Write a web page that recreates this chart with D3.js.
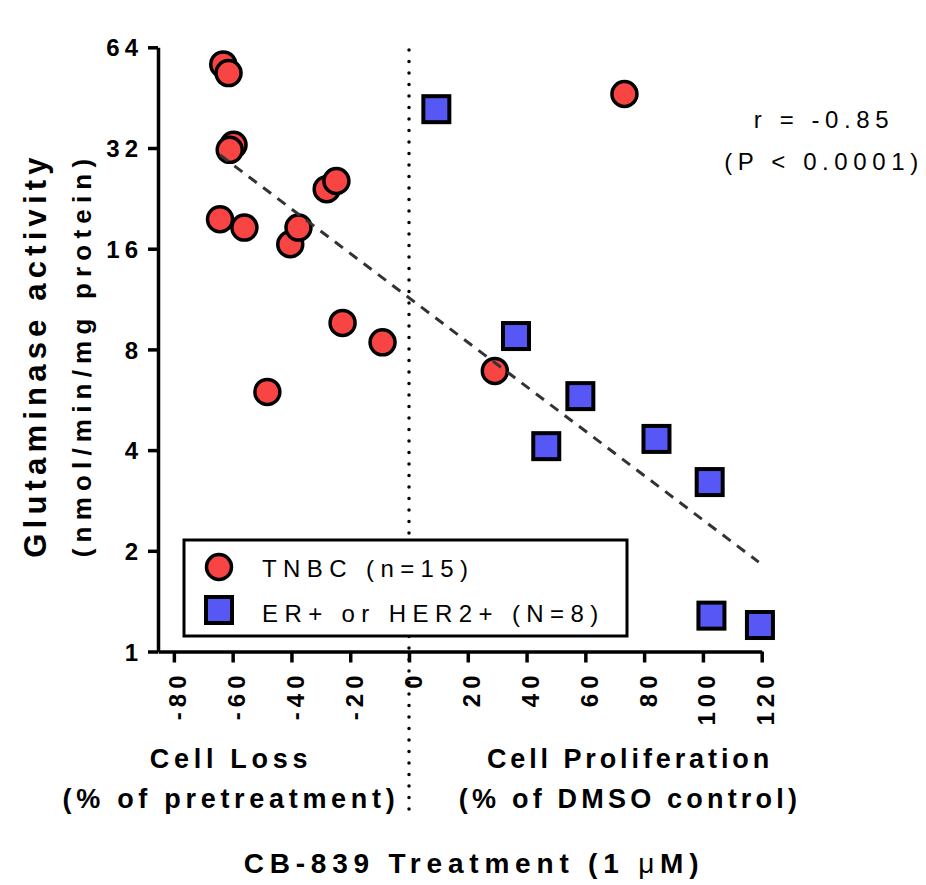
<!DOCTYPE html>
<html>
<head>
<meta charset="utf-8">
<script src="https://cdn.jsdelivr.net/npm/d3@7"></script>
<style>
  body { margin: 0; background: #fff; }
  svg { font-family: "Liberation Sans", Arial, sans-serif; }
</style>
</head>
<body>
<svg id="chart" width="926" height="885"></svg>
<script>
// TNBC points [x, y]
const tnbcX = [-63.2, -61.4, -59.7, -61.0, -64.3, -56.0, -40.4, -37.6, -28.0, -24.7, -22.6, -9.0, -48.2, 29.2, 73.3];
const tnbcY = [56.9, 53.6, 32.7, 31.6, 19.6, 18.5, 16.5, 18.5, 24.1, 25.5, 9.6, 8.4, 5.97, 6.9, 46.4];
// ER+ / HER2+ points
const erX = [9.3, 36.4, 58.3, 46.7, 84.2, 102.3, 102.9, 119.4];
const erY = [41.8, 8.77, 5.8, 4.11, 4.32, 3.21, 1.28, 1.2];
// regression line end points
const fitX = [-64.3, 119.0];
const fitY = [30.5, 1.85];

const xTicks = [-80, -60, -40, -20, 0, 20, 40, 60, 80, 100, 120];
const yTicks = [1, 2, 4, 8, 16, 32, 64];

const RED = "#f94444";
const BLUE = "#5757f5";

const svg = d3.select("#chart");

const x = d3.scaleLinear().domain([-85.4, 120]).range([158, 761.7]);
const y = d3.scaleLog().base(2).domain([1, 64]).range([651.5, 47.3]);

// dotted zero line
svg.append("line")
  .attr("x1", x(0)).attr("x2", x(0))
  .attr("y1", 50).attr("y2", 810)
  .attr("stroke", "#000")
  .attr("stroke-width", 3.5)
  .attr("stroke-linecap", "round")
  .attr("stroke-dasharray", "0 11.5");

// axes
const yAxis = svg.append("g")
  .attr("transform", `translate(${x.range()[0]},0)`)
  .call(d3.axisLeft(y).tickValues(yTicks).tickFormat(d => String(d)).tickSize(10).tickSizeOuter(0).tickPadding(5));

const xAxis = svg.append("g")
  .attr("transform", `translate(0,${y.range()[0]})`)
  .call(d3.axisBottom(x).tickValues(xTicks).tickFormat(d => String(d)).tickSize(11).tickSizeOuter(0));

[yAxis, xAxis].forEach(g => {
  g.selectAll("path, line").attr("stroke", "#000").attr("stroke-width", 3.5);
  g.selectAll("text")
    .attr("fill", "#000")
    .style("font-family", "'Liberation Sans', Arial, sans-serif")
    .style("font-weight", "bold")
    .style("font-size", "24px")
    .style("letter-spacing", "5px");
});

yAxis.selectAll("text").attr("dy", "0.36em");

xAxis.selectAll("text")
  .attr("text-anchor", "end")
  .attr("y", 0)
  .attr("dy", 0)
  .attr("transform", "translate(12,19) rotate(-90)");

const fitLine = d3.line().x(d => x(d[0])).y(d => y(d[1]));
const fitData = fitX.map((v, i) => [v, fitY[i]]);

// points
const tnbc = tnbcX.map((v, i) => [v, tnbcY[i]]);
const er = erX.map((v, i) => [v, erY[i]]);

svg.append("g").selectAll("rect")
  .data(er)
  .enter()
  .append("rect")
  .attr("x", d => x(d[0]) - 13)
  .attr("y", d => y(d[1]) - 13)
  .attr("width", 26)
  .attr("height", 26)
  .attr("fill", BLUE)
  .attr("stroke", "#000")
  .attr("stroke-width", 4);

svg.append("g").selectAll("circle")
  .data(tnbc)
  .enter()
  .append("circle")
  .attr("cx", d => x(d[0]))
  .attr("cy", d => y(d[1]))
  .attr("r", 12.5)
  .attr("fill", RED)
  .attr("stroke", "#000")
  .attr("stroke-width", 3.5);

// regression line, on top of the points
svg.append("path")
  .datum(fitData)
  .attr("d", fitLine)
  .attr("fill", "none")
  .attr("stroke", "#333")
  .attr("stroke-width", 3)
  .attr("stroke-dasharray", "10 8");

// legend
const legend = svg.append("g");
legend.append("rect")
  .attr("x", 184).attr("y", 540)
  .attr("width", 443).attr("height", 96)
  .attr("fill", "#fff")
  .attr("stroke", "#000")
  .attr("stroke-width", 3);
legend.append("circle")
  .attr("cx", 219).attr("cy", 567).attr("r", 12.5)
  .attr("fill", RED).attr("stroke", "#000").attr("stroke-width", 3.5);
legend.append("rect")
  .attr("x", 206).attr("y", 597).attr("width", 26).attr("height", 26)
  .attr("fill", BLUE).attr("stroke", "#000").attr("stroke-width", 4);
const legendText = [["TNBC (n=15)", 577], ["ER+ or HER2+ (N=8)", 622]];
legendText.forEach(([t, by]) => {
  legend.append("text")
    .attr("x", 262).attr("y", by)
    .style("font-size", "24px")
    .style("letter-spacing", "6.4px")
    .text(t);
});

// stats
const stats = [["r = -0.85", 128], ["(P < 0.0001)", 170]];
stats.forEach(([t, by]) => {
  svg.append("text")
    .attr("x", 824).attr("y", by)
    .attr("text-anchor", "middle")
    .style("font-size", "24px")
    .style("letter-spacing", "5.6px")
    .text(t);
});

// y title
const yTitle = [["Glutaminase activity", 46, "31px", "5.2px"], ["(nmol/min/mg protein)", 91, "26px", "6.2px"]];
yTitle.forEach(([t, bx, fs, ls]) => {
  svg.append("text")
    .attr("transform", `translate(${bx},355) rotate(-90)`)
    .attr("text-anchor", "middle")
    .style("font-weight", "bold")
    .style("font-size", fs)
    .style("letter-spacing", ls)
    .text(t);
});

// x labels
const xLabels = [
  ["Cell Loss", 231, 768, "4.7px"],
  ["(% of pretreatment)", 231, 808, "4.7px"],
  ["Cell Proliferation", 630, 768, "3.9px"],
  ["(% of DMSO control)", 630, 808, "4.2px"]
];
xLabels.forEach(([t, cx, by, ls]) => {
  svg.append("text")
    .attr("x", cx).attr("y", by)
    .attr("text-anchor", "middle")
    .style("font-weight", "bold")
    .style("font-size", "27px")
    .style("letter-spacing", ls)
    .text(t);
});

const title = svg.append("text")
  .attr("x", 474).attr("y", 873)
  .attr("text-anchor", "middle")
  .style("font-weight", "bold")
  .style("font-size", "28px")
  .style("letter-spacing", "5.8px");
title.append("tspan").text("CB-839 Treatment (1 ");
title.append("tspan").style("font-weight", "normal").text("μ");
title.append("tspan").text("M)");
</script>
</body>
</html>
